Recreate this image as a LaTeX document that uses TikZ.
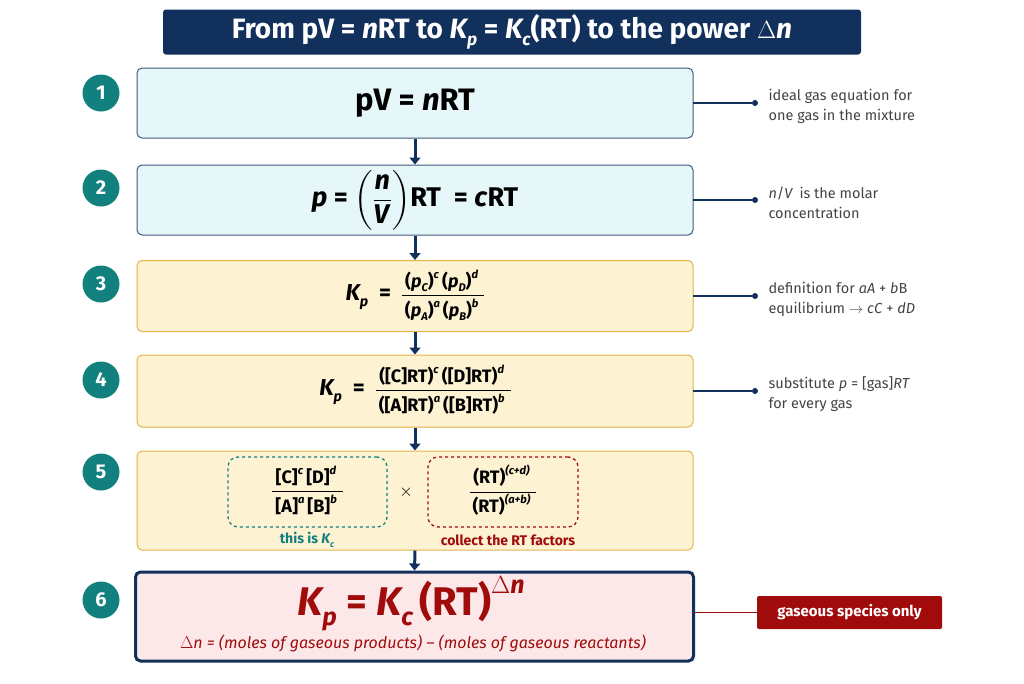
\documentclass[tikz,border=0pt]{standalone}
\usepackage{amsmath}
\usepackage{fontspec}
\setmainfont{Fira Sans}
\usetikzlibrary{arrows.meta}
\definecolor{navy}{HTML}{12305C}
\definecolor{tealc}{HTML}{138080}
\definecolor{cyanf}{HTML}{E6F7FA}
\definecolor{yelf}{HTML}{FDF2D2}
\definecolor{yelb}{HTML}{E2B44A}
\definecolor{redf}{HTML}{FDE8E9}
\definecolor{dred}{HTML}{A00C0C}
\definecolor{gtxt}{HTML}{444444}
\makeatletter
\newcommand{\relsm}[1]{{\fontsize{\fpeval{0.62*\f@size}}{\fpeval{0.7*\f@size}}\selectfont #1}}
\makeatother
\newcommand{\tsup}[1]{\raisebox{0.5em}{\relsm{\textit{#1}}}\,}
\newcommand{\tsub}[1]{\raisebox{-0.25em}{\relsm{\textit{#1}}}}
\newcommand{\myfr}[2]{\begin{tabular}{@{\,}c@{\,}}#1\\[2pt]\hline\rule{0pt}{1.15em}#2\end{tabular}}
\begin{document}
\begin{tikzpicture}[x=1pt,y=-1pt,
  stepbox/.style={rounded corners=5pt,line width=1pt},
  bluebox/.style={stepbox,draw=navy!80,fill=cyanf},
  yelbox/.style={stepbox,draw=yelb,fill=yelf},
  num/.style={circle,fill=tealc,text=white,font=\bfseries\fontsize{20}{20}\selectfont,minimum size=37pt,inner sep=0pt},
  arr/.style={navy,line width=3pt,-{Triangle[length=7pt,width=11pt]}},
  ann/.style={navy,line width=1.2pt},
  dot/.style={circle,fill=navy,inner sep=0pt,minimum size=6pt},
  note/.style={anchor=west,align=left,text=gtxt,font=\fontsize{14.5}{20}\selectfont}]
\useasboundingbox (0,0) rectangle (1024,683);
\fill[white] (0,0) rectangle (1024,683);
% title
\node[fill=navy,rounded corners=3pt,minimum width=698pt,minimum height=45pt,text=white,font=\bfseries\fontsize{28}{28}\selectfont] (title) at (512,32) {From pV = \textit{n}RT to \textit{K\tsub{p}} = \textit{K\tsub{c}}(RT) to the power $\Delta$\textit{n}};
% boxes
\node[bluebox,minimum width=556pt,minimum height=70pt,font=\bfseries\fontsize{31}{31}\selectfont] (b1) at (415,103) {pV = \textit{n}RT};
\node[bluebox,minimum width=556pt,minimum height=70pt,font=\bfseries\fontsize{27}{27}\selectfont] (b2) at (415,200) {\textit{p} = $\left(\dfrac{\textbf{\textit{n}}}{\textbf{\textit{V}}}\right)$RT \ = \textit{c}RT};
\node[yelbox,minimum width=556pt,minimum height=71pt,font=\bfseries\fontsize{23}{23}\selectfont] (b3) at (415,296) {\textit{K\tsub{p}} \ = \ {\fontsize{18}{20}\selectfont\myfr{(\textit{p\tsub{C}})\tsup{c}(\textit{p\tsub{D}})\tsup{d}}{(\textit{p\tsub{A}})\tsup{a}(\textit{p\tsub{B}})\tsup{b}}}};
\node[yelbox,minimum width=556pt,minimum height=72pt,font=\bfseries\fontsize{23}{23}\selectfont] (b4) at (415,391) {\textit{K\tsub{p}} \ = \ {\fontsize{18}{20}\selectfont\myfr{([C]RT)\tsup{c}([D]RT)\tsup{d}}{([A]RT)\tsup{a}([B]RT)\tsup{b}}}};
\node[yelbox,minimum width=556pt,minimum height=99pt] (b5) at (415,500.5) {};
\node[draw=navy,line width=3pt,rounded corners=5pt,fill=redf,minimum width=558pt,minimum height=89pt] (b6) at (414.5,616.5) {};
% step 5 contents
\node[draw=tealc,dashed,line width=1.3pt,rounded corners=10pt,minimum width=159pt,minimum height=70pt,font=\bfseries\fontsize{18}{20}\selectfont] (kc) at (307.5,492) {\myfr{[C]\tsup{c}[D]\tsup{d}}{[A]\tsup{a}[B]\tsup{b}}};
\node[draw=dred,dashed,line width=1.3pt,rounded corners=10pt,minimum width=150pt,minimum height=70pt,font=\bfseries\fontsize{18}{20}\selectfont] (rt) at (503,492) {\myfr{(RT)\tsup{(c+d)}}{(RT)\tsup{(a+b)}}};
\node[font=\fontsize{17}{17}\selectfont] (x) at (406,492) {$\times$};
\node[text=tealc,font=\bfseries\fontsize{14}{14}\selectfont] (kcl) at (307,540) {this is \textit{K\tsub{c}}};
\node[text=dred,font=\bfseries\fontsize{14}{14}\selectfont] (rtl) at (508,540) {collect the RT factors};
% step 6 contents
\node[text=dred,font=\bfseries\fontsize{40}{40}\selectfont] (res) at (411,604) {\textit{K\tsub{p}} = \textit{K\tsub{c}}\,(RT)\raisebox{0.55em}{\fontsize{25}{25}\selectfont$\Delta$\textit{n}}};
\node[text=dred,font=\itshape\fontsize{16}{16}\selectfont] (dn) at (413,643) {$\Delta$n = (moles of gaseous products) -- (moles of gaseous reactants)};
% numbers
\foreach \i/\y in {1/93,2/188,3/284,4/380,5/472,6/600}{\node[num] (n\i) at (101,\y) {\i};}
% arrows
\foreach \a/\b in {b1/b2,b2/b3,b3/b4,b4/b5,b5/b6}{\draw[arr] (\a.south) -- (\b.north);}
% annotations
\foreach \i/\y in {1/103,2/200,3/296,4/391}{
  \coordinate (s\i) at (693,\y);
  \node[dot] (d\i) at (755,\y) {};
  \draw[ann] (s\i) -- (d\i);}
\node[note] (t1) at (765,106) {ideal gas equation for\\one gas in the mixture};
\node[note] (t2) at (765,203) {\textit{n}/\textit{V} \,is the molar\\concentration};
\node[note] (t3) at (765,299) {definition for \textit{aA} + \textit{b}B\\equilibrium $\rightarrow$ \textit{cC} + \textit{dD}};
\node[note] (t4) at (765,394) {substitute \textit{p} = [gas]\textit{RT}\\for every gas};
\node[fill=dred,rounded corners=2pt,minimum width=185pt,minimum height=33pt,text=white,font=\bfseries\fontsize{15}{15}\selectfont] (gs) at (849.5,612.5) {gaseous species only};
\draw[dred,line width=1.5pt] (b6.east |- gs.west) -- (gs.west);
\end{tikzpicture}
\end{document}
